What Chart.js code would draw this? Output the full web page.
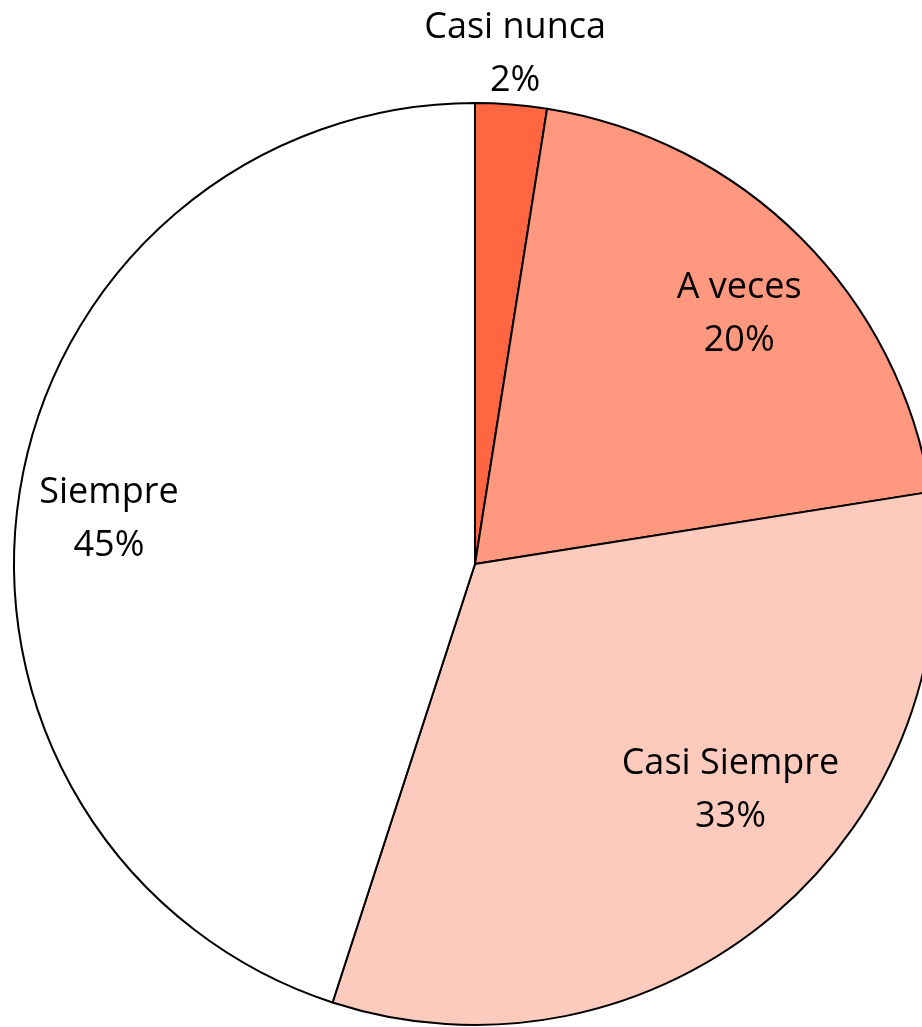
<!DOCTYPE html>
<html>
<head>
<meta charset="utf-8">
<script src="https://cdn.jsdelivr.net/npm/chart.js@4"></script>
<style>
  html, body { margin: 0; padding: 0; background: #ffffff; overflow: hidden; }
  #wrap { position: absolute; left: 0; top: 0; width: 942px; height: 1030px; }
</style>
</head>
<body>
<div id="wrap"><canvas id="grafico" width="942" height="1030"></canvas></div>
<script>
// Respuestas (40 encuestados)
const categorias = ['Casi nunca', 'A veces', 'Casi Siempre', 'Siempre'];
const respuestas = [1, 8, 13, 18];
const porcentajes = ['2%', '20%', '33%', '45%'];
const colores = ['#ff6641', '#ff987e', '#fdcbbd', '#ffffff'];

// Etiquetas estilo Excel: nombre + porcentaje, colocadas como "mejor ajuste"
const etiquetasPlugin = {
    id: 'etiquetas',
    afterDatasetsDraw(chart, args, opts) {
        const ctx = chart.ctx;
        const meta = chart.getDatasetMeta(0);
        ctx.save();
        ctx.fillStyle = '#000000';
        ctx.font = opts.font;
        ctx.textAlign = 'center';
        ctx.textBaseline = 'middle';
        meta.data.forEach(function(arc, i) {
            const p = arc.getProps(['x', 'y', 'startAngle', 'endAngle', 'outerRadius'], true);
            const medio = (p.startAngle + p.endAngle) / 2 + opts.giro[i] * Math.PI / 180;
            const f = opts.radio[i];
            const cx = p.x + Math.cos(medio) * p.outerRadius * f;
            const cy = p.y + Math.sin(medio) * p.outerRadius * f;
            ctx.fillText(categorias[i], cx, cy - 26);
            ctx.fillText(porcentajes[i], cx, cy + 27);
        });
        ctx.restore();
    }
};

new Chart(document.getElementById('grafico'), {
    type: 'pie',
    data: {
        labels: categorias,
        datasets: [{
            data: respuestas,
            backgroundColor: colores,
            borderColor: '#000000',
            borderWidth: 2
        }]
    },
    options: {
        responsive: false,
        animation: false,
        layout: {
            padding: { left: 13, top: 102, right: 5, bottom: 4 }
        },
        plugins: {
            legend: { display: false },
            tooltip: { enabled: false },
            etiquetas: {
                font: '36px "Open Sans", sans-serif',
                radio: [1.11, 0.79, 0.74, 0.80],
                giro: [0, 1.5, -8, -2]
            }
        }
    },
    plugins: [etiquetasPlugin]
});
</script>
</body>
</html>
